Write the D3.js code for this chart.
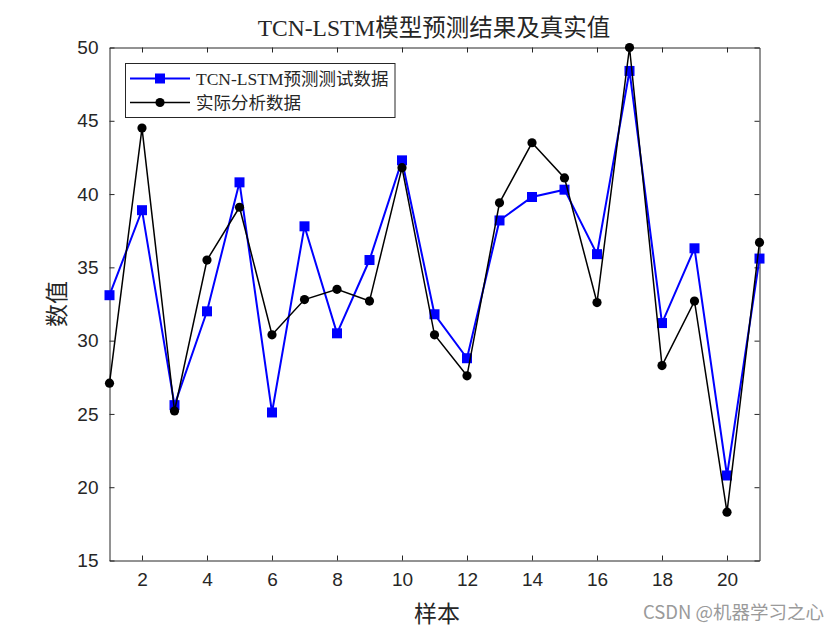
<!DOCTYPE html>
<html>
<head>
<meta charset="utf-8">
<script src="https://d3js.org/d3.v7.min.js"></script>
<style>
  body { margin: 0; background: #fff; }
  .serif { font-family: "Liberation Serif", "Times New Roman", "Noto Sans CJK SC", serif; }
  .tick text { font-family: "Liberation Sans", Arial, sans-serif; }
</style>
</head>
<body>
<svg id="svg" width="840" height="630"></svg>
<script>
// data
var samples = d3.range(1, 22);
var predicted = [33.1, 38.9, 25.6, 32.0, 40.8, 25.1, 37.8, 30.5, 35.5, 42.3, 31.8,
                 28.8, 38.2, 39.8, 40.3, 35.9, 48.4, 31.2, 36.3, 20.8, 35.6];
var actual = [27.1, 44.5, 25.2, 35.5, 39.1, 30.4, 32.8, 33.5, 32.7, 41.8, 30.4,
              27.6, 39.4, 43.5, 41.1, 32.6, 50.0, 28.3, 32.7, 18.3, 36.7];
var xTicks = [2, 4, 6, 8, 10, 12, 14, 16, 18, 20];
var yTicks = [15, 20, 25, 30, 35, 40, 45, 50];
var seriesNames = ["TCN-LSTM预测测试数据", "实际分析数据"];

var svg = d3.select("#svg");
svg.append("rect").attr("width", 840).attr("height", 630).attr("fill", "white");

var mLeft = 109.5, mRight = 759.5, mTop = 47.5, mBottom = 560.5;
var x = d3.scaleLinear().domain([1, 21]).range([mLeft, mRight]);
var y = d3.scaleLinear().domain([15, 50]).range([mBottom, mTop]);

var axisColor = "#262626";

function styleAxis(g, labels) {
    g.select(".domain").attr("stroke", axisColor).attr("stroke-width", 1);
    g.selectAll(".tick line").attr("stroke", axisColor);
    g.selectAll(".tick text").attr("fill", axisColor).attr("font-size", 19);
    if (!labels) g.selectAll(".tick text").remove();
}

var gx = svg.append("g").attr("transform", "translate(0," + mBottom + ")")
    .call(d3.axisBottom(x).tickValues(xTicks).tickSizeInner(-5).tickSizeOuter(0).tickPadding(12));
styleAxis(gx, true);
var gxt = svg.append("g").attr("transform", "translate(0," + mTop + ")")
    .call(d3.axisTop(x).tickValues(xTicks).tickSizeInner(-5).tickSizeOuter(0));
styleAxis(gxt, false);
var gy = svg.append("g").attr("transform", "translate(" + mLeft + ",0)")
    .call(d3.axisLeft(y).tickValues(yTicks).tickSizeInner(-5).tickSizeOuter(0).tickPadding(11));
styleAxis(gy, true);
var gyr = svg.append("g").attr("transform", "translate(" + mRight + ",0)")
    .call(d3.axisRight(y).tickValues(yTicks).tickSizeInner(-5).tickSizeOuter(0));
styleAxis(gyr, false);

var line = d3.line().x(function (d, i) { return x(samples[i]); }).y(function (d) { return y(d); });

// predicted series
svg.append("path").attr("d", line(predicted)).attr("fill", "none")
    .attr("stroke", "#0000ff").attr("stroke-width", 2);
svg.selectAll(".sq").data(predicted).enter().append("rect")
    .attr("x", function (d, i) { return x(samples[i]) - 5; })
    .attr("y", function (d) { return y(d) - 5; })
    .attr("width", 10).attr("height", 10).attr("fill", "#0000ff");

// actual series
svg.append("path").attr("d", line(actual)).attr("fill", "none")
    .attr("stroke", "black").attr("stroke-width", 1.5);
svg.selectAll(".dot").data(actual).enter().append("circle")
    .attr("cx", function (d, i) { return x(samples[i]); })
    .attr("cy", function (d) { return y(d); })
    .attr("r", 4.6).attr("fill", "black");

// title and labels
svg.append("text").attr("class", "serif").attr("x", 434).attr("y", 36)
    .attr("text-anchor", "middle").attr("font-size", 23.5).attr("fill", "#262626")
    .text("TCN-LSTM模型预测结果及真实值");
svg.append("text").attr("class", "serif").attr("x", 437).attr("y", 622)
    .attr("text-anchor", "middle").attr("font-size", 23).attr("fill", "#262626")
    .text("样本");
svg.append("text").attr("class", "serif")
    .attr("transform", "translate(65,304) rotate(-90)")
    .attr("text-anchor", "middle").attr("font-size", 23).attr("fill", "#262626")
    .text("数值");

// legend
var lg = svg.append("g");
lg.append("rect").attr("x", 125.5).attr("y", 63.5).attr("width", 269.5).attr("height", 54)
    .attr("fill", "white").attr("stroke", axisColor).attr("stroke-width", 1);
[78.5, 102.5].forEach(function (ly, i) {
    lg.append("line").attr("x1", 130).attr("x2", 190).attr("y1", ly).attr("y2", ly)
        .attr("stroke", i == 0 ? "#0000ff" : "black").attr("stroke-width", i == 0 ? 2 : 1.5);
    if (i == 0) {
        lg.append("rect").attr("x", 155).attr("y", ly - 5).attr("width", 10).attr("height", 10).attr("fill", "#0000ff");
    } else {
        lg.append("circle").attr("cx", 160).attr("cy", ly).attr("r", 4.6).attr("fill", "black");
    }
    lg.append("text").attr("class", "serif").attr("x", 196).attr("y", ly + 6)
        .attr("font-size", 17.5).attr("fill", "#262626").text(seriesNames[i]);
});

// watermark
svg.append("text").attr("x", 824).attr("y", 619).attr("text-anchor", "end")
    .attr("font-family", "'Noto Sans CJK SC', 'Liberation Sans', sans-serif")
    .attr("font-size", 18.5).attr("fill", "#9a9a9a").text("CSDN @机器学习之心");
</script>
</body>
</html>
